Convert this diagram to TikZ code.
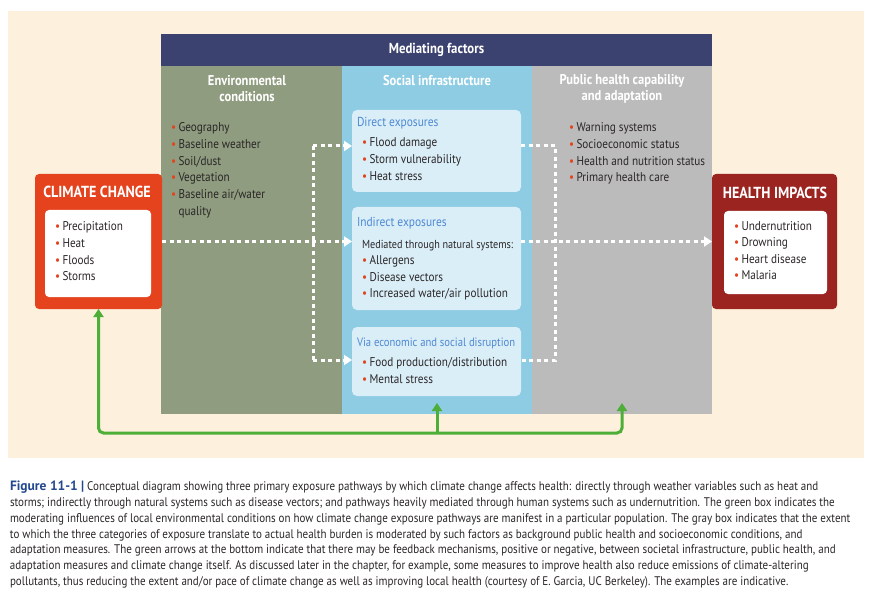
\documentclass[tikz,border=0pt]{standalone}
\usepackage{fontspec}
\setmainfont{PT Sans}[FakeStretch=0.88]
\newfontfamily\figfont{PT Sans}
\usetikzlibrary{arrows.meta,calc,positioning}
\pgfdeclarelayer{background1}
\pgfdeclarelayer{background2}
\pgfsetlayers{background2,background1,main}
\newcommand{\bul}{\makebox[7.5pt][l]{\textcolor{bulletred}{\textbullet}}}

\begin{document}
\begin{tikzpicture}[x=1pt,y=-1pt,
	every node/.style={inner sep=0pt,outer sep=0pt},
	band/.style={fill=#1,minimum height=348pt},
	inbox/.style={fill=boxblue,rounded corners=5pt,minimum width=169pt},
	whitebox/.style={fill=white,rounded corners=4pt},
	colhead/.style={text=white,align=center,font=\fontsize{14.2}{16}\selectfont\bfseries},
	bigtitle/.style={text=white,font=\fontsize{16}{18}\selectfont\bfseries},
	boxtitle/.style={anchor=base west,text=titleblue,font=\fontsize{13}{15}\selectfont},
	item/.style={anchor=base west,text=textdark,font=\fontsize{12.7}{15}\selectfont},
	flow/.style={white,line width=3pt,dash pattern=on 4pt off 3.5pt},
	flowarrow/.style={flow,-{Triangle[length=8pt,width=10pt]}},
	feedback/.style={fbgreen,line width=3pt,rounded corners=5pt,-{Triangle[length=8pt,width=10pt]}}]

	\definecolor{pagebeige}{HTML}{FDF0DC}
	\definecolor{headnavy}{HTML}{3C426F}
	\definecolor{envgreen}{HTML}{8F9C7F}
	\definecolor{socblue}{HTML}{8ECCE4}
	\definecolor{pubgray}{HTML}{BBBBBB}
	\definecolor{boxblue}{HTML}{DAEEF8}
	\definecolor{titleblue}{HTML}{4D88D2}
	\definecolor{ccred}{HTML}{E4431E}
	\definecolor{hired}{HTML}{9B2421}
	\definecolor{bulletred}{HTML}{E4431E}
	\definecolor{fbgreen}{HTML}{4DAE38}
	\definecolor{captionblue}{HTML}{24488E}
	\definecolor{textdark}{HTML}{2A2627}

	\useasboundingbox (0,0) rectangle (871,591);

	\begin{pgfonlayer}{background2}
		\fill[white] (0,0) rectangle (871,591);
		\fill[pagebeige] (8,11) rectangle (864,458);
	\end{pgfonlayer}

	% the three mediating columns
	\begin{pgfonlayer}{background1}
		\node(env) [band=envgreen,minimum width=181pt] at (251.5,240) {};
		\node(social) [band=socblue,minimum width=190pt] at (437,240) {};
		\node(public) [band=pubgray,minimum width=180pt] at (622,240) {};
		\node(mediating) [fill=headnavy,minimum width=551pt,minimum height=32pt,text=white,font=\fontsize{14.5}{16}\selectfont\bfseries] at (436.5,50) {Mediating factors};
	\end{pgfonlayer}

	\node(envtitle) [colhead] at (247,89) {Environmental\\conditions};
	\node(soctitle) [colhead] at (437,81) {Social infrastructure};
	\node(pubtitle) [colhead] at (622,89) {Public health capability\\and adaptation};

	\foreach \t [count=\i] in {Geography,Baseline weather,Soil/dust,Vegetation,Baseline air/water}
		\node(env-\i) [item] at (171,{132+16.6*(\i-1)}) {\bul\t};
	\node(env-6) [item] at ($(env-5.base west)+(7.5,16.6)$) {quality};

	\foreach \t [count=\i] in {Warning systems,Socioeconomic status,Health and nutrition status,Primary health care}
		\node(pub-\i) [item] at (569,{132+16.6*(\i-1)}) {\bul\t};

	% exposure boxes
	\node(direct) [inbox,minimum height=82pt] at (436.5,151) {};
	\node(indirect) [inbox,minimum height=103pt] at (436.5,258.5) {};
	\node(via) [inbox,minimum height=69pt] at (436.5,361.5) {};

	\node(dirtitle) [boxtitle] at ($(direct.north west)+(5,17)$) {Direct exposures};
	\foreach \t [count=\i] in {Flood damage,Storm vulnerability,Heat stress}
		\node(dir-\i) [item] at ($(direct.north west)+(10,{37+16.7*(\i-1)})$) {\bul\t};

	\node(indtitle) [boxtitle] at ($(indirect.north west)+(5,19)$) {Indirect exposures};
	\node(ind-0) [item,font=\fontsize{11.6}{15}\selectfont] at ($(indirect.north west)+(10,41)$) {Mediated through natural systems:};
	\foreach \t [count=\i] in {Allergens,Disease vectors,Increased water/air pollution}
		\node(ind-\i) [item] at ($(indirect.north west)+(10,{58+16.3*(\i-1)})$) {\bul\t};

	\node(viatitle) [boxtitle,font=\fontsize{12.1}{15}\selectfont] at ($(via.north west)+(5,19)$) {Via economic and social disruption};
	\foreach \t [count=\i] in {Food production/distribution,Mental stress}
		\node(via-\i) [item] at ($(via.north west)+(10,{39+17*(\i-1)})$) {\bul\t};

	% climate change and health impacts
	\node(climate) [fill=ccred,rounded corners=4pt,minimum width=127pt,minimum height=135pt] at (98.5,241.5) {};
	\node(cctitle) [bigtitle] at (97,192) {CLIMATE CHANGE};
	\node(ccbox) [whitebox,minimum width=106pt,minimum height=87pt] at (98,253.5) {};
	\foreach \t [count=\i] in {Precipitation,Heat,Floods,Storms}
		\node(cc-\i) [item] at (55,{231+16.6*(\i-1)}) {\bul\t};

	\node(health) [fill=hired,rounded corners=4pt,minimum width=125pt,minimum height=135pt] at (774.5,241.5) {};
	\node(hititle) [bigtitle] at (775,193) {HEALTH IMPACTS};
	\node(hibox) [whitebox,minimum width=103pt,minimum height=83pt] at (775.5,252.5) {};
	\foreach \t [count=\i] in {Undernutrition,Drowning,Heart disease,Malaria}
		\node(hi-\i) [item] at (734,{230+16.6*(\i-1)}) {\bul\t};

	% exposure pathways
	\coordinate (forkL) at ($(climate.east)+(151,0)$);
	\coordinate (forkR) at ($(climate.east)+(393,0)$);
	\coordinate (dirin) at ($(direct.north west)+(0,36)$);
	\coordinate (dirout) at ($(direct.north east)+(0,36)$);
	\coordinate (viain) at ($(via.north west)+(0,33)$);
	\coordinate (viaout) at ($(via.north east)+(0,33)$);

	\draw[flow] (dirin -| forkL) -- (viain -| forkL);
	\draw[flowarrow] (climate.east) -- (climate.east -| indirect.west);
	\draw[flowarrow] (dirin -| forkL) -- (dirin);
	\draw[flowarrow] (viain -| forkL) -- (viain);
	\draw[flow] (dirout) -- (dirout -| forkR) -- (viaout -| forkR) -- (viaout);
	\draw[flowarrow] (climate.east -| indirect.east) -- (climate.east -| health.west);

	% feedback
	\coordinate (fb) at ($(social.south)+(0,19)$);
	\draw[feedback] (fb) -| (climate.south);
	\draw[feedback] (fb) -| ($(public.south)+(0,-11)$);
	\draw[feedback] (fb) -- ($(social.south)+(0,-11)$);

	\node(caption) [anchor=north west,align=left,text=textdark,font=\fontsize{12.5}{15.8}\selectfont] at (10,481) {\textcolor{captionblue}{\figfont\bfseries\fontsize{13.5}{15.8}\selectfont Figure 11-1 |} Conceptual diagram showing three primary exposure pathways by which climate change affects health: directly through weather variables such as heat and\\
storms; indirectly through natural systems such as disease vectors; and pathways heavily mediated through human systems such as undernutrition. The green box indicates the\\
moderating influences of local environmental conditions on how climate change exposure pathways are manifest in a particular population. The gray box indicates that the extent\\
to which the three categories of exposure translate to actual health burden is moderated by such factors as background public health and socioeconomic conditions, and\\
adaptation measures. The green arrows at the bottom indicate that there may be feedback mechanisms, positive or negative, between societal infrastructure, public health, and\\
adaptation measures and climate change itself. As discussed later in the chapter, for example, some measures to improve health also reduce emissions of climate-altering\\
pollutants, thus reducing the extent and/or pace of climate change as well as improving local health (courtesy of E. Garcia, UC Berkeley). The examples are indicative.};

\end{tikzpicture}
\end{document}
